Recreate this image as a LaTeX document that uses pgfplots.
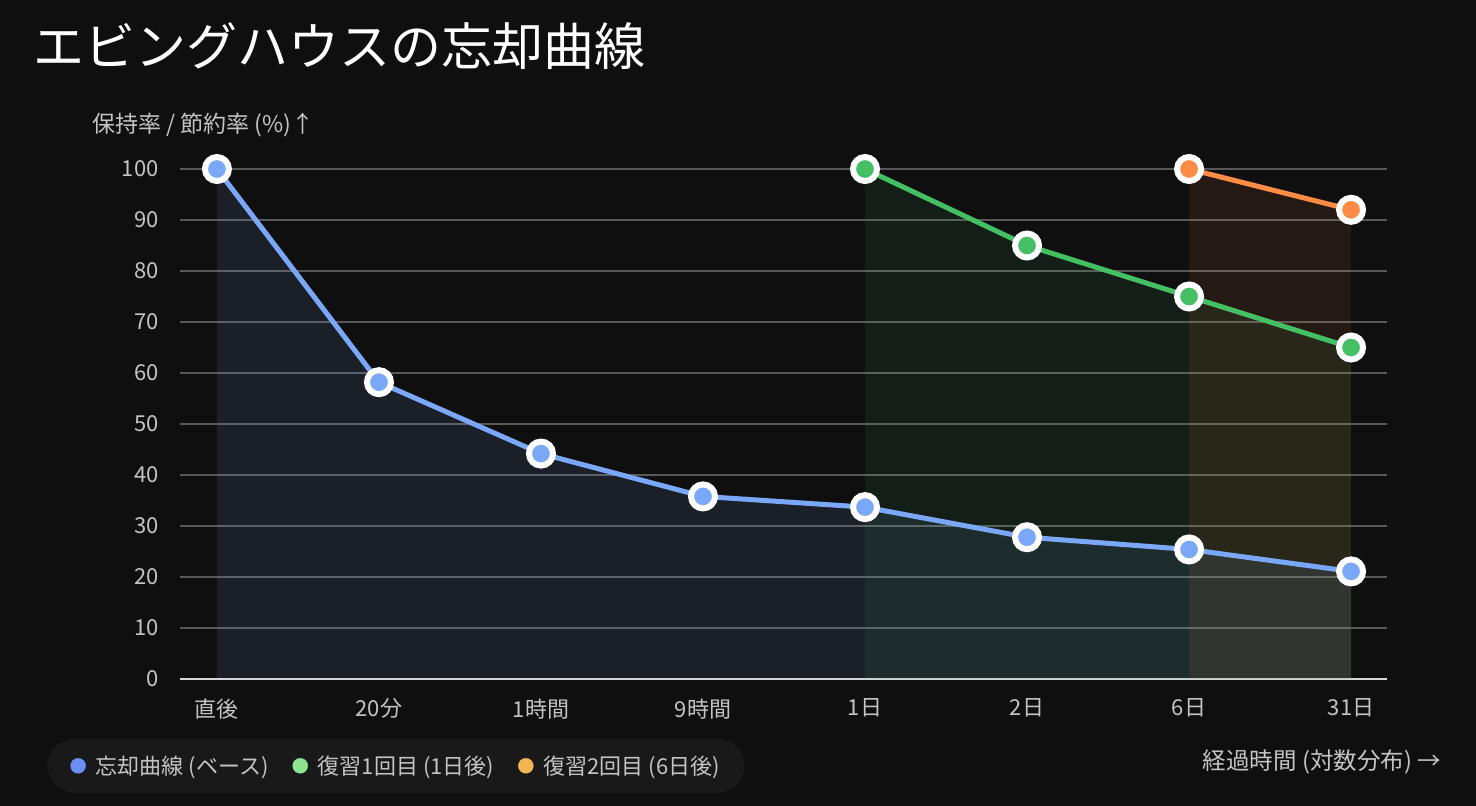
\documentclass[border=0pt]{standalone}
\usepackage{fontspec}
\setmainfont{Noto Sans CJK JP}
\usepackage{pgfplots}
\pgfplotsset{compat=1.18}
\definecolor{bg}{HTML}{0F0F0F}
\definecolor{gridc}{HTML}{585858}
\definecolor{axisc}{HTML}{D6D6D6}
\definecolor{lab}{HTML}{C4C4C4}
\definecolor{bluel}{HTML}{7AA7F7}
\definecolor{greenl}{HTML}{45BF63}
\definecolor{orangel}{HTML}{FF8C45}
\definecolor{legblue}{HTML}{6B8FF5}
\definecolor{leggreen}{HTML}{8DE38E}
\definecolor{legorange}{HTML}{F2B552}
\definecolor{legbg}{HTML}{191919}
\begin{document}
\begin{tikzpicture}[x=1pt,y=1pt]
\fill[bg] (0,0) rectangle (1476,-806);
\node[anchor=west, text=white, font=\fontsize{51}{55}\selectfont, inner sep=0] at (33,-46) {エビングハウスの忘却曲線};
\node[anchor=west, text=lab, font=\fontsize{23}{26}\selectfont, inner sep=0] at (92,-125) {保持率 / 節約率 (\%)↑};
\node[anchor=east, text=lab, font=\fontsize{23.5}{26}\selectfont, inner sep=0] at (1441,-762) {経過時間 (対数分布) →};
\begin{axis}[
  at={(180pt,-679pt)}, anchor=south west,
  scale only axis, width=1207pt, height=510pt,
  xmin=-0.228, xmax=7.222, ymin=0, ymax=100,
  clip=false,
  axis lines*=left,
  x axis line style={color=axisc, line width=1.5pt, -},
  y axis line style={draw=none},
  major tick length=0pt,
  ymajorgrids,
  grid style={color=gridc, line width=1.2pt},
  ytick={0,10,...,100},
  xtick={0,1,2,3,4,5,6,7},
  xticklabels={直後,20分,1時間,9時間,1日,2日,6日,31日},
  /pgf/number format/assume math mode=true,
  tick label style={text=lab, font=\fontsize{22}{26}\selectfont},
  xticklabel style={yshift=-16pt},
  yticklabel style={xshift=-18pt},
  legend style={at={(-0.110,-0.2235)}, anchor=south west, fill=legbg, draw=none,
    rounded corners=27pt, text=lab, font=\fontsize{22}{25}\selectfont,
    inner xsep=23pt, inner ysep=15pt, column sep=8pt,
    /tikz/every even column/.append style={column sep=22pt}},
  legend columns=3,
  legend cell align=left,
]
% areas
\addplot[draw=none, fill=bluel, fill opacity=0.11, forget plot] coordinates {(0,100) (1,58.2) (2,44.2) (3,35.8) (4,33.7) (5,27.8) (6,25.4) (7,21.1)} \closedcycle;
\addplot[draw=none, fill=greenl, fill opacity=0.09, forget plot] coordinates {(4,100) (5,85) (6,75) (7,65)} \closedcycle;
\addplot[draw=none, fill=orangel, fill opacity=0.09, forget plot] coordinates {(6,100) (7,92)} \closedcycle;
% lines
\addplot[bluel, line width=5pt, mark=*, mark size=12pt, mark options={draw=white, line width=6pt, fill=bluel}, forget plot] coordinates {(0,100) (1,58.2) (2,44.2) (3,35.8) (4,33.7) (5,27.8) (6,25.4) (7,21.1)};
\addplot[greenl, line width=5pt, mark=*, mark size=12pt, mark options={draw=white, line width=6pt, fill=greenl}, forget plot] coordinates {(4,100) (5,85) (6,75) (7,65)};
\addplot[orangel, line width=5pt, mark=*, mark size=12pt, mark options={draw=white, line width=6pt, fill=orangel}, forget plot] coordinates {(6,100) (7,92)};
% legend
\addlegendimage{legend image code/.code={\fill[legblue] (0,0) circle (7.5pt);}}
\addlegendentry{忘却曲線 (ベース)}
\addlegendimage{legend image code/.code={\fill[leggreen] (0,0) circle (7.5pt);}}
\addlegendentry{復習1回目 (1日後)}
\addlegendimage{legend image code/.code={\fill[legorange] (0,0) circle (7.5pt);}}
\addlegendentry{復習2回目 (6日後)}
\end{axis}
\end{tikzpicture}
\end{document}
